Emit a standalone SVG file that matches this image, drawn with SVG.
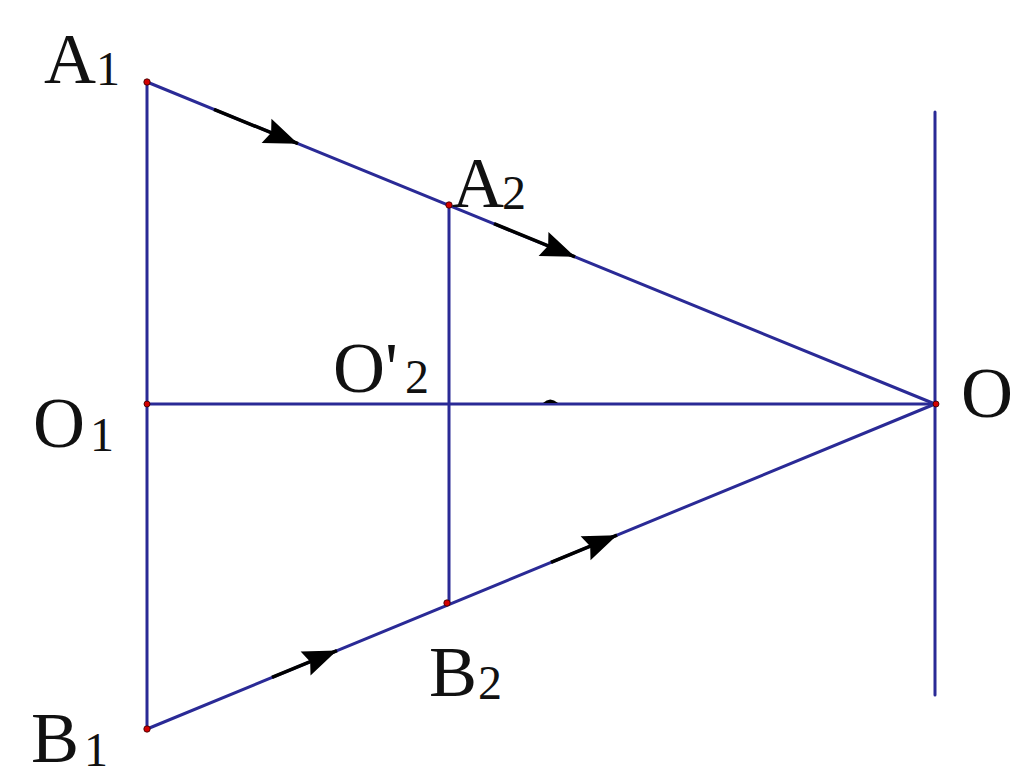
<svg xmlns="http://www.w3.org/2000/svg" width="1024" height="784" viewBox="0 0 1024 784">
  <style>
    .ln { stroke: #2a2a96; stroke-width: 3; fill: none; stroke-linecap: round; }
    .ar { stroke: #000; stroke-width: 3.5; fill: none; }
    .pt { fill: #d40000; stroke: #300000; stroke-width: 0.8; }
    .lb { font-family: 'Liberation Serif', 'DejaVu Serif', 'Times New Roman', serif; font-size: 72px; fill: #111; }
    .sb { font-size: 48px; }
  </style>
  <defs>
    <marker id="head" markerUnits="userSpaceOnUse" markerWidth="40" markerHeight="30" viewBox="-36 -15 40 30" refX="0" refY="0" orient="auto">
      <path d="M0,0 L-34,-13 L-29,0 L-34,13 Z" fill="#000"/>
    </marker>
  </defs>
  <rect width="1024" height="784" fill="#fff"/>

  <g id="connectors">
    <line class="ln" x1="147" y1="82" x2="147" y2="729"/>
    <line class="ln" x1="449" y1="205" x2="449" y2="604"/>
    <line class="ln" x1="147" y1="404" x2="935" y2="404"/>
    <line class="ln" x1="935" y1="112" x2="935" y2="695"/>
    <line class="ln" x1="147" y1="82" x2="935" y2="404"/>
    <line class="ln" x1="147" y1="729" x2="935" y2="404"/>
    <line class="ar" x1="214" y1="109.4" x2="298" y2="143.7" marker-end="url(#head)"/>
    <line class="ar" x1="494" y1="223.7" x2="575" y2="256.8" marker-end="url(#head)"/>
    <line class="ar" x1="272" y1="677.4" x2="337" y2="650.6" marker-end="url(#head)"/>
    <line class="ar" x1="551" y1="562.4" x2="617" y2="535.2" marker-end="url(#head)"/>
    <path d="M543,403 Q550,396 558,403 Z" fill="#000"/>
  </g>

  <g id="A1">
    <circle class="pt" cx="147" cy="82" r="3.2"/>
    <text class="lb" x="44" y="83">A<tspan class="sb" x="96" y="85">1</tspan></text>
  </g>
  <g id="A2">
    <circle class="pt" cx="449" cy="205" r="3.2"/>
    <text class="lb" x="452" y="207">A<tspan class="sb" x="502" y="209">2</tspan></text>
  </g>
  <g id="O2p">
    <text class="lb" x="333" y="392">O'<tspan class="sb" x="405" y="393">2</tspan></text>
  </g>
  <g id="O1">
    <circle class="pt" cx="147" cy="404" r="3"/>
    <text class="lb" x="33" y="447">O<tspan class="sb" x="90" y="451">1</tspan></text>
  </g>
  <g id="O">
    <circle class="pt" cx="936" cy="404" r="3"/>
    <text class="lb" x="961" y="417">O</text>
  </g>
  <g id="B2">
    <circle class="pt" cx="447" cy="603" r="3.2"/>
    <text class="lb" x="429" y="696">B<tspan class="sb" x="478" y="699">2</tspan></text>
  </g>
  <g id="B1">
    <circle class="pt" cx="147" cy="729" r="3.2"/>
    <text class="lb" x="31" y="762">B<tspan class="sb" x="84" y="766">1</tspan></text>
  </g>
</svg>
